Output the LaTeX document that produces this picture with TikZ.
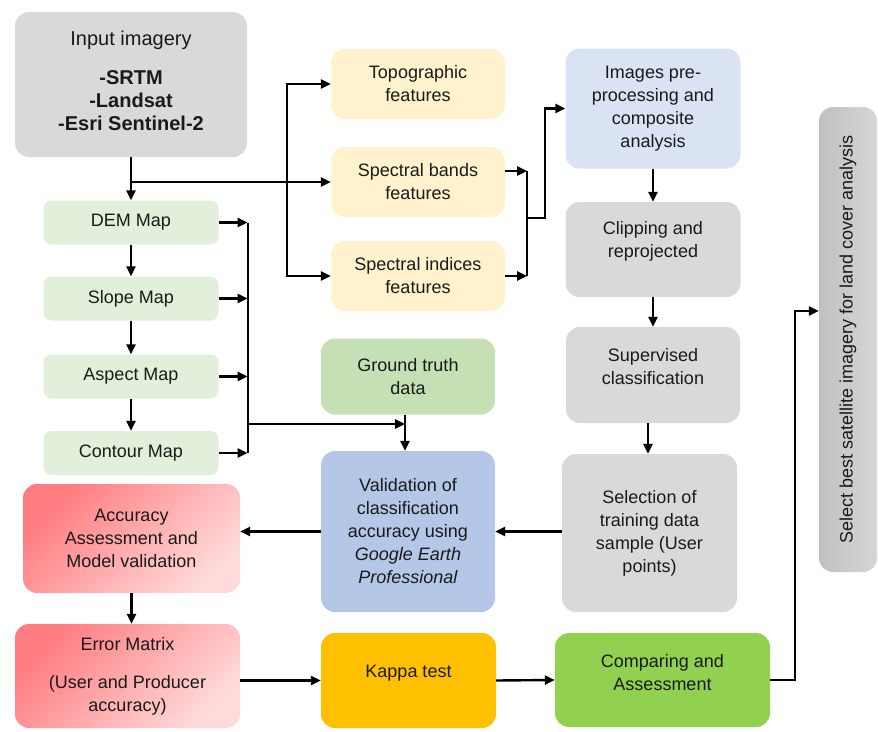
\documentclass[tikz,border=0pt]{standalone}
\usepackage{fontspec}
\setmainfont{Liberation Sans}
\usetikzlibrary{arrows.meta,calc}
\definecolor{cgray}{HTML}{D9D9D9}
\definecolor{cfeat}{HTML}{FFF2CC}
\definecolor{cimg}{HTML}{DAE3F3}
\definecolor{cmap}{HTML}{E2EFDA}
\definecolor{cgt}{HTML}{C5E0B4}
\definecolor{cval}{HTML}{B4C7E7}
\definecolor{ckap}{HTML}{FFC000}
\definecolor{ccomp}{HTML}{92D050}
\definecolor{credA}{HTML}{FF7C80}
\definecolor{credB}{HTML}{FFDADA}
\definecolor{cbestA}{HTML}{C0C0C0}
\definecolor{cbestB}{HTML}{D6D6D6}
\definecolor{ctext}{HTML}{1A1A1A}
\begin{document}
\begin{tikzpicture}[x=1pt,y=-1pt,
  box/.style={rectangle, rounded corners=14pt, draw=none, align=center, inner sep=2pt,
    text=ctext, font=\fontsize{18}{23}\selectfont},
  txt/.style={align=center, text=ctext, font=\fontsize{18}{23}\selectfont},
  mapbox/.style={box, rounded corners=8pt, fill=cmap, minimum width=175pt, minimum height=44pt},
  featbox/.style={box, fill=cfeat, minimum width=174pt, minimum height=70pt},
  redbox/.style={box, top color=credA, bottom color=credB, shading angle=45},
  arr/.style={line width=2.4pt, -{Triangle[length=10pt,width=9pt]}},
  ln/.style={line width=2.4pt}
]
\useasboundingbox (0,0) rectangle (878,731);

% nodes
\node[box, fill=cgray, minimum width=232pt, minimum height=145pt] (inp) at (131,84.5) {};
\node[txt, font=\fontsize{20}{23}\selectfont] (inptxt) at (131,80.5)
  {Input imagery\\[16pt]\textbf{-SRTM}\\\textbf{-Landsat}\\\textbf{-Esri Sentinel-2}};

\node[mapbox] (dem) at (131,222.5) {DEM Map};
\node[mapbox] (slope) at (131,298.5) {Slope Map};
\node[mapbox] (aspect) at (131,376.5) {Aspect Map};
\node[mapbox] (contour) at (131,453) {Contour Map};

\node[featbox] (topo) at (418,84) {Topographic\\features};
\node[featbox] (band) at (418,182) {Spectral bands\\features};
\node[featbox] (indx) at (418,276) {Spectral indices\\features};

\node[box, fill=cimg, minimum width=175pt, minimum height=120pt] (img) at (653,108.5)
  {Images pre-\\processing and\\composite\\analysis};
\node[box, fill=cgray, minimum width=175pt, minimum height=95pt] (clip) at (653,249.5) {};
\node[txt] (cliptxt) at (653,241) {Clipping and\\reprojected};
\node[box, fill=cgray, minimum width=174pt, minimum height=96pt] (sup) at (653,375) {};
\node[txt] (suptxt) at (653,367) {Supervised\\classification};
\node[box, fill=cgray, minimum width=175pt, minimum height=158pt] (sel) at (649.5,533)
  {Selection of\\training data\\sample (User\\points)};

\node[box, fill=cgt, minimum width=174pt, minimum height=76pt] (gt) at (408,376.5) {Ground truth\\data};
\node[box, fill=cval, minimum width=174pt, minimum height=161pt] (val) at (408,531.5)
  {Validation of\\classification\\accuracy using\\\textit{Google Earth}\\\textit{Professional}};

\node[redbox, minimum width=217pt, minimum height=109pt] (acc) at (131.5,538.5)
  {Accuracy\\Assessment and\\Model validation};
\node[redbox, minimum width=225pt, minimum height=104pt] (err) at (127.5,676)
  {Error Matrix\\[15pt](User and Producer\\accuracy)};

\node[box, fill=ckap, minimum width=175pt, minimum height=95pt] (kap) at (408.5,680.5) {};
\node[txt] (kaptxt) at (408.5,673) {Kappa test};
\node[box, fill=ccomp, minimum width=215pt, minimum height=94pt] (comp) at (662.5,680) {};
\node[txt] (comptxt) at (662.5,673) {Comparing and\\Assessment};

\node[box, rotate=90, top color=cbestA, bottom color=cbestB, shading angle=90,
  minimum width=465pt, minimum height=58pt] (best) at (848,339.5)
  {Select best satellite imagery for land cover analysis};

% connectors
\coordinate (j1) at (131,182);
\coordinate (b1) at (287,182);
\draw[arr] (inp.south) -- (dem.north);
\draw[arr] (j1) -- (band.west);
\draw[arr] (b1) |- (topo.west);
\draw[arr] (b1) |- (indx.west);

\coordinate (s1) at ($(band.east)+(0,-11)$);
\coordinate (m1) at (527,218);
\draw[arr] (s1) -- ++(22,0) coordinate (s2);
\draw[arr] (indx.east) -- ++(22,0) coordinate (s3);
\draw[ln] (s2) -- (s3);
\draw[arr] (m1) -- ++(18,0) |- (img.west);

\draw[arr] (img.south) -- (clip.north);
\draw[arr] (clip.south) -- (sup.north);
\draw[arr] ([xshift=-5pt]sup.south) -- ([xshift=-5pt]sup.south |- sel.north);

\draw[arr] (dem.south) -- (slope.north);
\draw[arr] (slope.south) -- (aspect.north);
\draw[arr] (aspect.south) -- (contour.north);

\draw[arr] (dem.east) -- ++(29,0) coordinate (d1);
\draw[arr] (slope.east) -- ++(29,0);
\draw[arr] (aspect.east) -- ++(29,0);
\draw[arr] (contour.east) -- ++(29,0) coordinate (d4);
\draw[ln] (d1) -- (d4);
\coordinate (g0) at (248,424);
\coordinate (gt1) at ($(gt.south)+(-3,0)$);
\draw[arr] (g0) -- (g0 -| gt1);
\draw[arr] (gt1) -- (gt1 |- val.north);

\draw[arr] (sel.west |- val.east) -- (val.east);
\draw[arr] (val.west) -- (val.west -| acc.east);
\draw[arr] (acc.south) -- (acc.south |- err.north);
\draw[arr] (err.east |- kap.west) -- (kap.west);
\draw[arr] (kap.east) -- (comp.west);
\coordinate (bt) at ($(best.north)+(0,-28.5)$);
\draw[arr] (comp.east) -- ++(25,0) |- (bt);
\end{tikzpicture}
\end{document}
